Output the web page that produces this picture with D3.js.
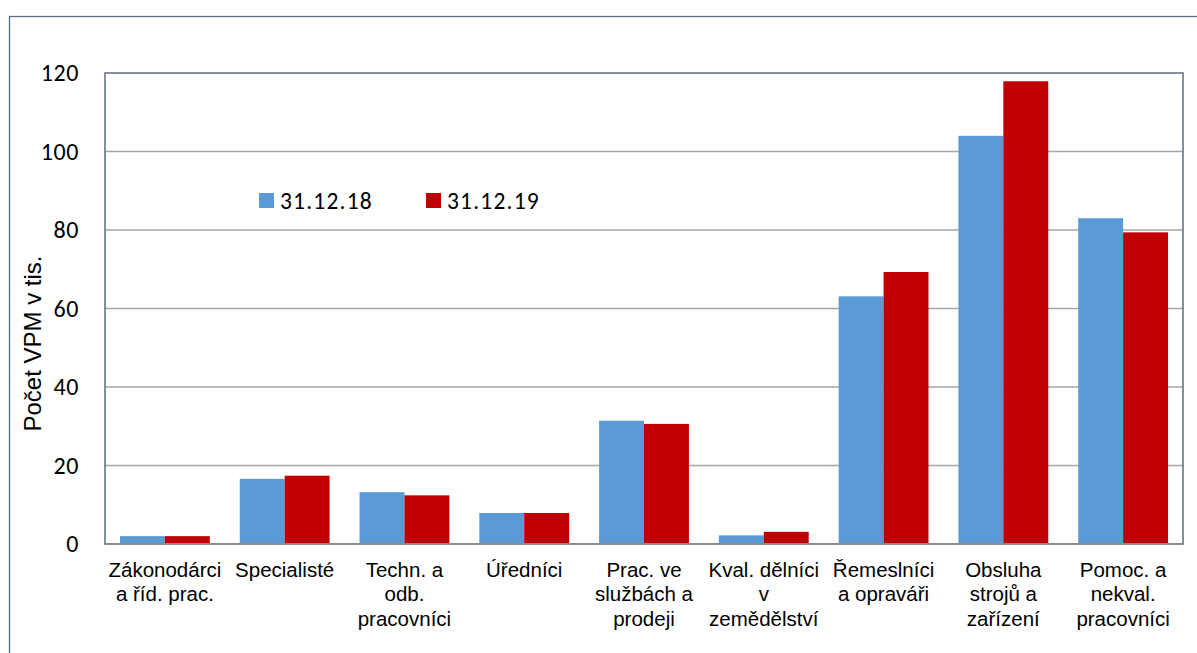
<!DOCTYPE html>
<html><head><meta charset="utf-8">
<script src="https://cdn.jsdelivr.net/npm/d3@7"></script>
<style>html,body{margin:0;padding:0;background:#fff;}svg{display:block;}</style>
</head><body>
<svg id="c" width="1197" height="653"></svg>
<script>
const categories = [
  ["Zákonodárci","a říd. prac."],
  ["Specialisté"],
  ["Techn. a","odb.","pracovníci"],
  ["Úředníci"],
  ["Prac. ve","službách a","prodeji"],
  ["Kval. dělníci","v","zemědělství"],
  ["Řemeslníci","a opraváři"],
  ["Obsluha","strojů a","zařízení"],
  ["Pomoc. a","nekval.","pracovníci"]
];
const seriesNames = ["31.12.18","31.12.19"];
const values2018 = [2.0, 16.6, 13.2, 7.9, 31.4, 2.2, 63.1, 104.0, 83.0];
const values2019 = [2.0, 17.4, 12.4, 7.9, 30.6, 3.1, 69.3, 117.9, 79.4];
const yTicks = [0, 20, 40, 60, 80, 100, 120];
const colors = ["#5b9bd5", "#c00000"];

const svg = d3.select("#c");
const m = {left:105, top:73, right:1183, bottom:544};

// outer frame
svg.append("rect").attr("x",9.5).attr("y",16.5).attr("width",1200).attr("height",700)
  .attr("fill","none").attr("stroke","#5d6b80").attr("stroke-width",1.3);

const x = d3.scaleBand().domain(d3.range(categories.length)).range([m.left, m.right]).paddingInner(0.25).paddingOuter(0.125);
const xs = d3.scaleBand().domain([0,1]).range([0, x.bandwidth()]);
const y = d3.scaleLinear().domain([0,120]).range([m.bottom, m.top]);

// gridlines
svg.append("g").selectAll("line").data(yTicks.filter(t=>t>0 && t<120)).join("line")
  .attr("x1",m.left).attr("x2",m.right).attr("y1",d=>y(d)).attr("y2",d=>y(d))
  .attr("stroke","#a6a6a6").attr("stroke-width",1.3);

// bars
const data = [values2018, values2019];
data.forEach((vals, si) => {
  svg.append("g").selectAll("rect").data(vals).join("rect")
    .attr("x",(d,i)=>x(i)+xs(si)).attr("width",xs.bandwidth())
    .attr("y",d=>y(d)).attr("height",d=>y(0)-y(d))
    .attr("fill",colors[si]);
});

// plot frame
svg.append("rect").attr("x",m.left).attr("y",m.top).attr("width",m.right-m.left).attr("height",m.bottom-m.top)
  .attr("fill","none").attr("stroke","#5d6b80").attr("stroke-width",1.5);
svg.append("line").attr("x1",m.left).attr("x2",m.right).attr("y1",m.bottom).attr("y2",m.bottom)
  .attr("stroke","#8c8c8c").attr("stroke-width",2);

// y axis
const yAxis = d3.axisLeft(y).tickValues(yTicks).tickSize(0).tickPadding(26);
const gy = svg.append("g").attr("transform",`translate(${m.left},0)`).call(yAxis);
gy.select(".domain").remove();
gy.selectAll("text").attr("font-family","Carlito, Calibri, Lato, sans-serif").attr("font-size",24)
  .attr("letter-spacing",0.6).attr("fill","#000");

// y title
svg.append("text").attr("transform",`translate(41,${(255+432)/2}) rotate(-90)`)
  .attr("text-anchor","middle").attr("font-family","Liberation Sans, Arial, sans-serif")
  .attr("font-size",24).attr("fill","#000").text("Počet VPM v tis.");

// x labels
const gx = svg.append("g");
categories.forEach((lines,i)=>{
  const t = gx.append("text").attr("text-anchor","middle")
    .attr("font-family","Liberation Sans, Arial, sans-serif").attr("font-size",20.5).attr("fill","#000");
  lines.forEach((l,j)=>{
    t.append("tspan").attr("x",x(i)+x.bandwidth()/2).attr("y",577+j*24.3).text(l);
  });
});

// legend
const lg = svg.append("g");
const legX = [259, 426];
seriesNames.forEach((n,i)=>{
  lg.append("rect").attr("x",legX[i]).attr("y",193).attr("width",15).attr("height",15).attr("fill",colors[i]);
  lg.append("text").attr("x",legX[i]+21).attr("y",208.5).attr("font-family","Carlito, Calibri, Lato, sans-serif")
    .attr("font-size",23.5).attr("letter-spacing",1.2).attr("fill","#000").text(n);
});
</script>
</body></html>
